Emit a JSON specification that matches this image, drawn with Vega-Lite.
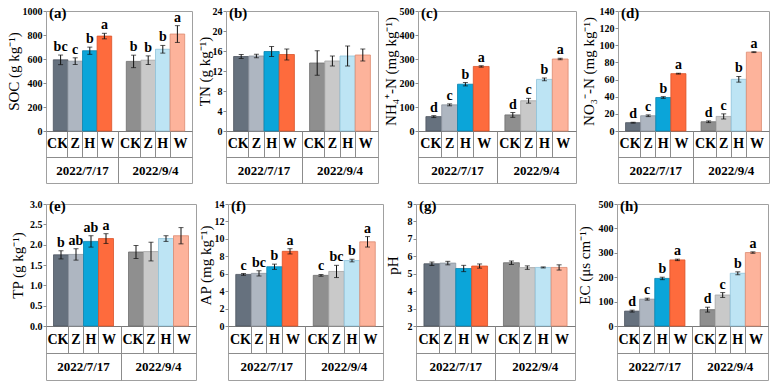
{
  "$schema": "https://vega.github.io/schema/vega-lite/v6.json",
  "background": "white",
  "padding": 5,
  "data": {"values": [
    {"p":"a","d":"2022/7/17","t":"CK","v":593,"e":40,"l":"bc"},
    {"p":"a","d":"2022/7/17","t":"Z","v":582,"e":28,"l":"c"},
    {"p":"a","d":"2022/7/17","t":"H","v":669,"e":30,"l":"b"},
    {"p":"a","d":"2022/7/17","t":"W","v":791,"e":23,"l":"a"},
    {"p":"a","d":"2022/9/4","t":"CK","v":580,"e":52,"l":"b"},
    {"p":"a","d":"2022/9/4","t":"Z","v":590,"e":36,"l":"b"},
    {"p":"a","d":"2022/9/4","t":"H","v":681,"e":32,"l":"b"},
    {"p":"a","d":"2022/9/4","t":"W","v":808,"e":70,"l":"a"},
    {"p":"b","d":"2022/7/17","t":"CK","v":14.9,"e":0.4,"l":""},
    {"p":"b","d":"2022/7/17","t":"Z","v":15.0,"e":0.35,"l":""},
    {"p":"b","d":"2022/7/17","t":"H","v":15.9,"e":1.0,"l":""},
    {"p":"b","d":"2022/7/17","t":"W","v":15.3,"e":1.1,"l":""},
    {"p":"b","d":"2022/9/4","t":"CK","v":13.6,"e":2.45,"l":""},
    {"p":"b","d":"2022/9/4","t":"Z","v":14.0,"e":1.0,"l":""},
    {"p":"b","d":"2022/9/4","t":"H","v":15.0,"e":2.0,"l":""},
    {"p":"b","d":"2022/9/4","t":"W","v":15.2,"e":1.2,"l":""},
    {"p":"c","d":"2022/7/17","t":"CK","v":60,"e":4,"l":"d"},
    {"p":"c","d":"2022/7/17","t":"Z","v":109,"e":4,"l":"c"},
    {"p":"c","d":"2022/7/17","t":"H","v":195,"e":7,"l":"b"},
    {"p":"c","d":"2022/7/17","t":"W","v":269,"e":3,"l":"a"},
    {"p":"c","d":"2022/9/4","t":"CK","v":67,"e":10,"l":"d"},
    {"p":"c","d":"2022/9/4","t":"Z","v":126,"e":10,"l":"c"},
    {"p":"c","d":"2022/9/4","t":"H","v":215,"e":6,"l":"b"},
    {"p":"c","d":"2022/9/4","t":"W","v":300,"e":3,"l":"a"},
    {"p":"d","d":"2022/7/17","t":"CK","v":9.7,"e":0.5,"l":"d"},
    {"p":"d","d":"2022/7/17","t":"Z","v":17.8,"e":1,"l":"c"},
    {"p":"d","d":"2022/7/17","t":"H","v":39.1,"e":1,"l":"b"},
    {"p":"d","d":"2022/7/17","t":"W","v":66.9,"e":0.5,"l":"a"},
    {"p":"d","d":"2022/9/4","t":"CK","v":10.8,"e":1,"l":"d"},
    {"p":"d","d":"2022/9/4","t":"Z","v":17.0,"e":3,"l":"c"},
    {"p":"d","d":"2022/9/4","t":"H","v":60.3,"e":3.3,"l":"b"},
    {"p":"d","d":"2022/9/4","t":"W","v":92,"e":0.5,"l":"a"},
    {"p":"e","d":"2022/7/17","t":"CK","v":1.75,"e":0.1,"l":"b"},
    {"p":"e","d":"2022/7/17","t":"Z","v":1.76,"e":0.14,"l":"ab"},
    {"p":"e","d":"2022/7/17","t":"H","v":2.08,"e":0.14,"l":"ab"},
    {"p":"e","d":"2022/7/17","t":"W","v":2.15,"e":0.12,"l":"a"},
    {"p":"e","d":"2022/9/4","t":"CK","v":1.82,"e":0.16,"l":""},
    {"p":"e","d":"2022/9/4","t":"Z","v":1.83,"e":0.23,"l":""},
    {"p":"e","d":"2022/9/4","t":"H","v":2.15,"e":0.07,"l":""},
    {"p":"e","d":"2022/9/4","t":"W","v":2.22,"e":0.2,"l":""},
    {"p":"f","d":"2022/7/17","t":"CK","v":5.92,"e":0.1,"l":"c"},
    {"p":"f","d":"2022/7/17","t":"Z","v":6.04,"e":0.3,"l":"bc"},
    {"p":"f","d":"2022/7/17","t":"H","v":6.8,"e":0.3,"l":"b"},
    {"p":"f","d":"2022/7/17","t":"W","v":8.57,"e":0.3,"l":"a"},
    {"p":"f","d":"2022/9/4","t":"CK","v":5.81,"e":0.1,"l":"c"},
    {"p":"f","d":"2022/9/4","t":"Z","v":6.26,"e":0.7,"l":"bc"},
    {"p":"f","d":"2022/9/4","t":"H","v":7.51,"e":0.15,"l":"b"},
    {"p":"f","d":"2022/9/4","t":"W","v":9.66,"e":0.6,"l":"a"},
    {"p":"g","d":"2022/7/17","t":"CK","v":5.57,"e":0.1,"l":""},
    {"p":"g","d":"2022/7/17","t":"Z","v":5.61,"e":0.1,"l":""},
    {"p":"g","d":"2022/7/17","t":"H","v":5.3,"e":0.18,"l":""},
    {"p":"g","d":"2022/7/17","t":"W","v":5.44,"e":0.12,"l":""},
    {"p":"g","d":"2022/9/4","t":"CK","v":5.63,"e":0.1,"l":""},
    {"p":"g","d":"2022/9/4","t":"Z","v":5.35,"e":0.1,"l":""},
    {"p":"g","d":"2022/9/4","t":"H","v":5.36,"e":0.03,"l":""},
    {"p":"g","d":"2022/9/4","t":"W","v":5.36,"e":0.15,"l":""},
    {"p":"h","d":"2022/7/17","t":"CK","v":61,"e":4,"l":"d"},
    {"p":"h","d":"2022/7/17","t":"Z","v":110,"e":4,"l":"c"},
    {"p":"h","d":"2022/7/17","t":"H","v":195,"e":5,"l":"b"},
    {"p":"h","d":"2022/7/17","t":"W","v":271,"e":3,"l":"a"},
    {"p":"h","d":"2022/9/4","t":"CK","v":67,"e":10,"l":"d"},
    {"p":"h","d":"2022/9/4","t":"Z","v":127,"e":10,"l":"c"},
    {"p":"h","d":"2022/9/4","t":"H","v":216,"e":6,"l":"b"},
    {"p":"h","d":"2022/9/4","t":"W","v":301,"e":3,"l":"a"}
  ]},
  "vconcat": [
    {"spacing": 3, "hconcat": [
      {
        "width": 146, "height": 172,
        "title": {"text": "(a)"},
        "transform": [
          {"filter": "datum.p == 'a'"},
          {"calculate": "datum.d + ' ' + datum.t", "as": "cat"},
          {"calculate": "datum.v - datum.e", "as": "lo"},
          {"calculate": "datum.v + datum.e", "as": "hi"}
        ],
        "layer": [
          {"mark": {"type": "bar", "strokeWidth": 0.8},
           "encoding": {
             "x": {"field": "cat", "type": "nominal", "title": null,
                   "scale": {"domain": ["2022/7/17 CK","2022/7/17 Z","2022/7/17 H","2022/7/17 W","gap","2022/9/4 CK","2022/9/4 Z","2022/9/4 H","2022/9/4 W"], "paddingInner": 0, "paddingOuter": 0.5},
                   "axis": {"orient": "bottom", "offset": -52, "values": ["2022/7/17 CK","2022/7/17 Z","2022/7/17 H","2022/7/17 W","2022/9/4 CK","2022/9/4 Z","2022/9/4 H","2022/9/4 W"], "labelExpr": "split(datum.value, ' ')[1]", "ticks": false, "domain": true, "domainColor": "#7a7a7a", "labelFontSize": 14, "labelPadding": 5,
                            "labelOffset": {"condition": [{"test": "indexof(datum.value, 'CK') >= 0", "value": -3}, {"test": "indexof(datum.value, 'W') >= 0", "value": 3}], "value": 0}}},
             "y": {"field": "v", "type": "quantitative", "title": "SOC (g kg⁻¹)",
                   "scale": {"domain": [0, 1000], "range": [120, 0]},
                   "axis": {"values": [0, 200, 400, 600, 800, 1000], "tickCount": 20, "format": "d", "labelOverlap": false, "titlePadding": 1}},
             "color": {"field": "cat", "type": "nominal", "legend": null,
                       "scale": {"domain": ["2022/7/17 CK","2022/7/17 Z","2022/7/17 H","2022/7/17 W","2022/9/4 CK","2022/9/4 Z","2022/9/4 H","2022/9/4 W"], "range": ["#66717e","#aeb6c1","#0ba5d9","#fe6b3d","#8f8f8f","#c9c9c9","#bde4f4","#fdb39b"]}},
             "stroke": {"field": "cat", "type": "nominal", "legend": null,
                        "scale": {"domain": ["2022/7/17 CK","2022/7/17 Z","2022/7/17 H","2022/7/17 W","2022/9/4 CK","2022/9/4 Z","2022/9/4 H","2022/9/4 W"], "range": ["#4e5661","#8e96a0","#0b84ae","#d9532a","#6f6f6f","#a5a5a5","#8fc3da","#dc8a70"]}}
           }},
          {"mark": {"type": "rule", "color": "#111", "strokeWidth": 1},
           "encoding": {
             "x": {"field": "cat", "type": "nominal", "title": null,
                   "scale": {"domain": ["2022/7/17 CK","2022/7/17 Z","2022/7/17 H","2022/7/17 W","gap","2022/9/4 CK","2022/9/4 Z","2022/9/4 H","2022/9/4 W"], "paddingInner": 0, "paddingOuter": 0.5},
                   "axis": {"orient": "bottom", "offset": -26, "values": ["2022/7/17 CK","2022/7/17 Z","2022/7/17 H","2022/9/4 CK","2022/9/4 Z","2022/9/4 H"], "bandPosition": 1, "tickExtra": false, "tickSize": -26, "labels": false, "domain": true}},
             "y": {"field": "lo", "type": "quantitative", "title": "SOC (g kg⁻¹)", "scale": {"domain": [0, 1000], "range": [120, 0]}},
             "y2": {"field": "hi"}
           }},
          {"mark": {"type": "tick", "color": "#111", "size": 5, "thickness": 1},
           "encoding": {
             "x": {"field": "cat", "type": "nominal", "title": null,
                   "scale": {"domain": ["2022/7/17 CK","2022/7/17 Z","2022/7/17 H","2022/7/17 W","gap","2022/9/4 CK","2022/9/4 Z","2022/9/4 H","2022/9/4 W"], "paddingInner": 0, "paddingOuter": 0.5},
                   "axis": {"orient": "bottom", "values": ["gap"], "tickSize": -52, "labels": false, "domain": false}},
             "y": {"field": "hi", "type": "quantitative", "title": "SOC (g kg⁻¹)", "scale": {"domain": [0, 1000], "range": [120, 0]}}
           }},
          {"mark": {"type": "tick", "color": "#111", "size": 5, "thickness": 1},
           "encoding": {
             "x": {"field": "cat", "type": "nominal", "title": null, "axis": null,
                   "scale": {"domain": ["2022/7/17 CK","2022/7/17 Z","2022/7/17 H","2022/7/17 W","gap","2022/9/4 CK","2022/9/4 Z","2022/9/4 H","2022/9/4 W"], "paddingInner": 0, "paddingOuter": 0.5}},
             "y": {"field": "lo", "type": "quantitative", "title": "SOC (g kg⁻¹)", "scale": {"domain": [0, 1000], "range": [120, 0]}}
           }},
          {"mark": {"type": "text", "baseline": "bottom", "dy": -1, "fontSize": 14, "fontWeight": "bold", "font": "Liberation Serif"},
           "encoding": {
             "x": {"field": "cat", "type": "nominal", "title": null,
                   "scale": {"domain": ["2022/7/17 CK","2022/7/17 Z","2022/7/17 H","2022/7/17 W","gap","2022/9/4 CK","2022/9/4 Z","2022/9/4 H","2022/9/4 W"], "paddingInner": 0, "paddingOuter": 0.5},
                   "axis": {"orient": "bottom", "values": ["2022/7/17 Z","2022/9/4 Z"], "labelExpr": "split(datum.value, ' ')[0]", "labelOffset": 7.3, "ticks": false, "domain": false, "labelPadding": -13, "labelBaseline": "middle", "labelFontSize": 13}},
             "y": {"field": "hi", "type": "quantitative", "title": "SOC (g kg⁻¹)", "scale": {"domain": [0, 1000], "range": [120, 0]}},
             "text": {"field": "l"}
           }}
        ],
        "resolve": {"axis": {"x": "independent"}}
      },
      {
        "width": 152, "height": 172,
        "title": {"text": "(b)"},
        "transform": [
          {"filter": "datum.p == 'b'"},
          {"calculate": "datum.d + ' ' + datum.t", "as": "cat"},
          {"calculate": "datum.v - datum.e", "as": "lo"},
          {"calculate": "datum.v + datum.e", "as": "hi"}
        ],
        "layer": [
          {"mark": {"type": "bar", "strokeWidth": 0.8},
           "encoding": {
             "x": {"field": "cat", "type": "nominal", "title": null,
                   "scale": {"domain": ["2022/7/17 CK","2022/7/17 Z","2022/7/17 H","2022/7/17 W","gap","2022/9/4 CK","2022/9/4 Z","2022/9/4 H","2022/9/4 W"], "paddingInner": 0, "paddingOuter": 0.5},
                   "axis": {"orient": "bottom", "offset": -52, "values": ["2022/7/17 CK","2022/7/17 Z","2022/7/17 H","2022/7/17 W","2022/9/4 CK","2022/9/4 Z","2022/9/4 H","2022/9/4 W"], "labelExpr": "split(datum.value, ' ')[1]", "ticks": false, "domain": true, "domainColor": "#7a7a7a", "labelFontSize": 14, "labelPadding": 5,
                            "labelOffset": {"condition": [{"test": "indexof(datum.value, 'CK') >= 0", "value": -3}, {"test": "indexof(datum.value, 'W') >= 0", "value": 3}], "value": 0}}},
             "y": {"field": "v", "type": "quantitative", "title": "TN (g kg⁻¹)",
                   "scale": {"domain": [0, 24], "range": [120, 0]},
                   "axis": {"values": [0, 4, 8, 12, 16, 20, 24], "tickCount": 20, "format": "d", "labelOverlap": false, "titlePadding": 0}},
             "color": {"field": "cat", "type": "nominal", "legend": null,
                       "scale": {"domain": ["2022/7/17 CK","2022/7/17 Z","2022/7/17 H","2022/7/17 W","2022/9/4 CK","2022/9/4 Z","2022/9/4 H","2022/9/4 W"], "range": ["#66717e","#aeb6c1","#0ba5d9","#fe6b3d","#8f8f8f","#c9c9c9","#bde4f4","#fdb39b"]}},
             "stroke": {"field": "cat", "type": "nominal", "legend": null,
                        "scale": {"domain": ["2022/7/17 CK","2022/7/17 Z","2022/7/17 H","2022/7/17 W","2022/9/4 CK","2022/9/4 Z","2022/9/4 H","2022/9/4 W"], "range": ["#4e5661","#8e96a0","#0b84ae","#d9532a","#6f6f6f","#a5a5a5","#8fc3da","#dc8a70"]}}
           }},
          {"mark": {"type": "rule", "color": "#111", "strokeWidth": 1},
           "encoding": {
             "x": {"field": "cat", "type": "nominal", "title": null,
                   "scale": {"domain": ["2022/7/17 CK","2022/7/17 Z","2022/7/17 H","2022/7/17 W","gap","2022/9/4 CK","2022/9/4 Z","2022/9/4 H","2022/9/4 W"], "paddingInner": 0, "paddingOuter": 0.5},
                   "axis": {"orient": "bottom", "offset": -26, "values": ["2022/7/17 CK","2022/7/17 Z","2022/7/17 H","2022/9/4 CK","2022/9/4 Z","2022/9/4 H"], "bandPosition": 1, "tickExtra": false, "tickSize": -26, "labels": false, "domain": true}},
             "y": {"field": "lo", "type": "quantitative", "title": "TN (g kg⁻¹)", "scale": {"domain": [0, 24], "range": [120, 0]}},
             "y2": {"field": "hi"}
           }},
          {"mark": {"type": "tick", "color": "#111", "size": 5, "thickness": 1},
           "encoding": {
             "x": {"field": "cat", "type": "nominal", "title": null,
                   "scale": {"domain": ["2022/7/17 CK","2022/7/17 Z","2022/7/17 H","2022/7/17 W","gap","2022/9/4 CK","2022/9/4 Z","2022/9/4 H","2022/9/4 W"], "paddingInner": 0, "paddingOuter": 0.5},
                   "axis": {"orient": "bottom", "values": ["gap"], "tickSize": -52, "labels": false, "domain": false}},
             "y": {"field": "hi", "type": "quantitative", "title": "TN (g kg⁻¹)", "scale": {"domain": [0, 24], "range": [120, 0]}}
           }},
          {"mark": {"type": "tick", "color": "#111", "size": 5, "thickness": 1},
           "encoding": {
             "x": {"field": "cat", "type": "nominal", "title": null, "axis": null,
                   "scale": {"domain": ["2022/7/17 CK","2022/7/17 Z","2022/7/17 H","2022/7/17 W","gap","2022/9/4 CK","2022/9/4 Z","2022/9/4 H","2022/9/4 W"], "paddingInner": 0, "paddingOuter": 0.5}},
             "y": {"field": "lo", "type": "quantitative", "title": "TN (g kg⁻¹)", "scale": {"domain": [0, 24], "range": [120, 0]}}
           }},
          {"mark": {"type": "text", "baseline": "bottom", "dy": -1, "fontSize": 14, "fontWeight": "bold", "font": "Liberation Serif"},
           "encoding": {
             "x": {"field": "cat", "type": "nominal", "title": null,
                   "scale": {"domain": ["2022/7/17 CK","2022/7/17 Z","2022/7/17 H","2022/7/17 W","gap","2022/9/4 CK","2022/9/4 Z","2022/9/4 H","2022/9/4 W"], "paddingInner": 0, "paddingOuter": 0.5},
                   "axis": {"orient": "bottom", "values": ["2022/7/17 Z","2022/9/4 Z"], "labelExpr": "split(datum.value, ' ')[0]", "labelOffset": 7.6, "ticks": false, "domain": false, "labelPadding": -13, "labelBaseline": "middle", "labelFontSize": 13}},
             "y": {"field": "hi", "type": "quantitative", "title": "TN (g kg⁻¹)", "scale": {"domain": [0, 24], "range": [120, 0]}},
             "text": {"field": "l"}
           }}
        ],
        "resolve": {"axis": {"x": "independent"}}
      },
      {
        "width": 158, "height": 172,
        "title": {"text": "(c)"},
        "transform": [
          {"filter": "datum.p == 'c'"},
          {"calculate": "datum.d + ' ' + datum.t", "as": "cat"},
          {"calculate": "datum.v - datum.e", "as": "lo"},
          {"calculate": "datum.v + datum.e", "as": "hi"}
        ],
        "layer": [
          {"mark": {"type": "bar", "strokeWidth": 0.8},
           "encoding": {
             "x": {"field": "cat", "type": "nominal", "title": null,
                   "scale": {"domain": ["2022/7/17 CK","2022/7/17 Z","2022/7/17 H","2022/7/17 W","gap","2022/9/4 CK","2022/9/4 Z","2022/9/4 H","2022/9/4 W"], "paddingInner": 0, "paddingOuter": 0.5},
                   "axis": {"orient": "bottom", "offset": -52, "values": ["2022/7/17 CK","2022/7/17 Z","2022/7/17 H","2022/7/17 W","2022/9/4 CK","2022/9/4 Z","2022/9/4 H","2022/9/4 W"], "labelExpr": "split(datum.value, ' ')[1]", "ticks": false, "domain": true, "domainColor": "#7a7a7a", "labelFontSize": 14, "labelPadding": 5,
                            "labelOffset": {"condition": [{"test": "indexof(datum.value, 'CK') >= 0", "value": -3}, {"test": "indexof(datum.value, 'W') >= 0", "value": 3}], "value": 0}}},
             "y": {"field": "v", "type": "quantitative", "title": "NH₄⁺-N (mg kg⁻¹)",
                   "scale": {"domain": [0, 500], "range": [120, 0]},
                   "axis": {"values": [0, 100, 200, 300, 400, 500], "tickCount": 20, "format": "d", "labelOverlap": false, "titlePadding": 1}},
             "color": {"field": "cat", "type": "nominal", "legend": null,
                       "scale": {"domain": ["2022/7/17 CK","2022/7/17 Z","2022/7/17 H","2022/7/17 W","2022/9/4 CK","2022/9/4 Z","2022/9/4 H","2022/9/4 W"], "range": ["#66717e","#aeb6c1","#0ba5d9","#fe6b3d","#8f8f8f","#c9c9c9","#bde4f4","#fdb39b"]}},
             "stroke": {"field": "cat", "type": "nominal", "legend": null,
                        "scale": {"domain": ["2022/7/17 CK","2022/7/17 Z","2022/7/17 H","2022/7/17 W","2022/9/4 CK","2022/9/4 Z","2022/9/4 H","2022/9/4 W"], "range": ["#4e5661","#8e96a0","#0b84ae","#d9532a","#6f6f6f","#a5a5a5","#8fc3da","#dc8a70"]}}
           }},
          {"mark": {"type": "rule", "color": "#111", "strokeWidth": 1},
           "encoding": {
             "x": {"field": "cat", "type": "nominal", "title": null,
                   "scale": {"domain": ["2022/7/17 CK","2022/7/17 Z","2022/7/17 H","2022/7/17 W","gap","2022/9/4 CK","2022/9/4 Z","2022/9/4 H","2022/9/4 W"], "paddingInner": 0, "paddingOuter": 0.5},
                   "axis": {"orient": "bottom", "offset": -26, "values": ["2022/7/17 CK","2022/7/17 Z","2022/7/17 H","2022/9/4 CK","2022/9/4 Z","2022/9/4 H"], "bandPosition": 1, "tickExtra": false, "tickSize": -26, "labels": false, "domain": true}},
             "y": {"field": "lo", "type": "quantitative", "title": "NH₄⁺-N (mg kg⁻¹)", "scale": {"domain": [0, 500], "range": [120, 0]}},
             "y2": {"field": "hi"}
           }},
          {"mark": {"type": "tick", "color": "#111", "size": 5, "thickness": 1},
           "encoding": {
             "x": {"field": "cat", "type": "nominal", "title": null,
                   "scale": {"domain": ["2022/7/17 CK","2022/7/17 Z","2022/7/17 H","2022/7/17 W","gap","2022/9/4 CK","2022/9/4 Z","2022/9/4 H","2022/9/4 W"], "paddingInner": 0, "paddingOuter": 0.5},
                   "axis": {"orient": "bottom", "values": ["gap"], "tickSize": -52, "labels": false, "domain": false}},
             "y": {"field": "hi", "type": "quantitative", "title": "NH₄⁺-N (mg kg⁻¹)", "scale": {"domain": [0, 500], "range": [120, 0]}}
           }},
          {"mark": {"type": "tick", "color": "#111", "size": 5, "thickness": 1},
           "encoding": {
             "x": {"field": "cat", "type": "nominal", "title": null, "axis": null,
                   "scale": {"domain": ["2022/7/17 CK","2022/7/17 Z","2022/7/17 H","2022/7/17 W","gap","2022/9/4 CK","2022/9/4 Z","2022/9/4 H","2022/9/4 W"], "paddingInner": 0, "paddingOuter": 0.5}},
             "y": {"field": "lo", "type": "quantitative", "title": "NH₄⁺-N (mg kg⁻¹)", "scale": {"domain": [0, 500], "range": [120, 0]}}
           }},
          {"mark": {"type": "text", "baseline": "bottom", "dy": -1, "fontSize": 14, "fontWeight": "bold", "font": "Liberation Serif"},
           "encoding": {
             "x": {"field": "cat", "type": "nominal", "title": null,
                   "scale": {"domain": ["2022/7/17 CK","2022/7/17 Z","2022/7/17 H","2022/7/17 W","gap","2022/9/4 CK","2022/9/4 Z","2022/9/4 H","2022/9/4 W"], "paddingInner": 0, "paddingOuter": 0.5},
                   "axis": {"orient": "bottom", "values": ["2022/7/17 Z","2022/9/4 Z"], "labelExpr": "split(datum.value, ' ')[0]", "labelOffset": 7.9, "ticks": false, "domain": false, "labelPadding": -13, "labelBaseline": "middle", "labelFontSize": 13}},
             "y": {"field": "hi", "type": "quantitative", "title": "NH₄⁺-N (mg kg⁻¹)", "scale": {"domain": [0, 500], "range": [120, 0]}},
             "text": {"field": "l"}
           }}
        ],
        "resolve": {"axis": {"x": "independent"}}
      },
      {
        "width": 151, "height": 172,
        "title": {"text": "(d)"},
        "transform": [
          {"filter": "datum.p == 'd'"},
          {"calculate": "datum.d + ' ' + datum.t", "as": "cat"},
          {"calculate": "datum.v - datum.e", "as": "lo"},
          {"calculate": "datum.v + datum.e", "as": "hi"}
        ],
        "layer": [
          {"mark": {"type": "bar", "strokeWidth": 0.8},
           "encoding": {
             "x": {"field": "cat", "type": "nominal", "title": null,
                   "scale": {"domain": ["2022/7/17 CK","2022/7/17 Z","2022/7/17 H","2022/7/17 W","gap","2022/9/4 CK","2022/9/4 Z","2022/9/4 H","2022/9/4 W"], "paddingInner": 0, "paddingOuter": 0.5},
                   "axis": {"orient": "bottom", "offset": -52, "values": ["2022/7/17 CK","2022/7/17 Z","2022/7/17 H","2022/7/17 W","2022/9/4 CK","2022/9/4 Z","2022/9/4 H","2022/9/4 W"], "labelExpr": "split(datum.value, ' ')[1]", "ticks": false, "domain": true, "domainColor": "#7a7a7a", "labelFontSize": 14, "labelPadding": 5,
                            "labelOffset": {"condition": [{"test": "indexof(datum.value, 'CK') >= 0", "value": -3}, {"test": "indexof(datum.value, 'W') >= 0", "value": 3}], "value": 0}}},
             "y": {"field": "v", "type": "quantitative", "title": "NO₃⁻-N (mg kg⁻¹)",
                   "scale": {"domain": [0, 140], "range": [120, 0]},
                   "axis": {"values": [0, 20, 40, 60, 80, 100, 120, 140], "tickCount": 20, "format": "d", "labelOverlap": false, "titlePadding": 3}},
             "color": {"field": "cat", "type": "nominal", "legend": null,
                       "scale": {"domain": ["2022/7/17 CK","2022/7/17 Z","2022/7/17 H","2022/7/17 W","2022/9/4 CK","2022/9/4 Z","2022/9/4 H","2022/9/4 W"], "range": ["#66717e","#aeb6c1","#0ba5d9","#fe6b3d","#8f8f8f","#c9c9c9","#bde4f4","#fdb39b"]}},
             "stroke": {"field": "cat", "type": "nominal", "legend": null,
                        "scale": {"domain": ["2022/7/17 CK","2022/7/17 Z","2022/7/17 H","2022/7/17 W","2022/9/4 CK","2022/9/4 Z","2022/9/4 H","2022/9/4 W"], "range": ["#4e5661","#8e96a0","#0b84ae","#d9532a","#6f6f6f","#a5a5a5","#8fc3da","#dc8a70"]}}
           }},
          {"mark": {"type": "rule", "color": "#111", "strokeWidth": 1},
           "encoding": {
             "x": {"field": "cat", "type": "nominal", "title": null,
                   "scale": {"domain": ["2022/7/17 CK","2022/7/17 Z","2022/7/17 H","2022/7/17 W","gap","2022/9/4 CK","2022/9/4 Z","2022/9/4 H","2022/9/4 W"], "paddingInner": 0, "paddingOuter": 0.5},
                   "axis": {"orient": "bottom", "offset": -26, "values": ["2022/7/17 CK","2022/7/17 Z","2022/7/17 H","2022/9/4 CK","2022/9/4 Z","2022/9/4 H"], "bandPosition": 1, "tickExtra": false, "tickSize": -26, "labels": false, "domain": true}},
             "y": {"field": "lo", "type": "quantitative", "title": "NO₃⁻-N (mg kg⁻¹)", "scale": {"domain": [0, 140], "range": [120, 0]}},
             "y2": {"field": "hi"}
           }},
          {"mark": {"type": "tick", "color": "#111", "size": 5, "thickness": 1},
           "encoding": {
             "x": {"field": "cat", "type": "nominal", "title": null,
                   "scale": {"domain": ["2022/7/17 CK","2022/7/17 Z","2022/7/17 H","2022/7/17 W","gap","2022/9/4 CK","2022/9/4 Z","2022/9/4 H","2022/9/4 W"], "paddingInner": 0, "paddingOuter": 0.5},
                   "axis": {"orient": "bottom", "values": ["gap"], "tickSize": -52, "labels": false, "domain": false}},
             "y": {"field": "hi", "type": "quantitative", "title": "NO₃⁻-N (mg kg⁻¹)", "scale": {"domain": [0, 140], "range": [120, 0]}}
           }},
          {"mark": {"type": "tick", "color": "#111", "size": 5, "thickness": 1},
           "encoding": {
             "x": {"field": "cat", "type": "nominal", "title": null, "axis": null,
                   "scale": {"domain": ["2022/7/17 CK","2022/7/17 Z","2022/7/17 H","2022/7/17 W","gap","2022/9/4 CK","2022/9/4 Z","2022/9/4 H","2022/9/4 W"], "paddingInner": 0, "paddingOuter": 0.5}},
             "y": {"field": "lo", "type": "quantitative", "title": "NO₃⁻-N (mg kg⁻¹)", "scale": {"domain": [0, 140], "range": [120, 0]}}
           }},
          {"mark": {"type": "text", "baseline": "bottom", "dy": -1, "fontSize": 14, "fontWeight": "bold", "font": "Liberation Serif"},
           "encoding": {
             "x": {"field": "cat", "type": "nominal", "title": null,
                   "scale": {"domain": ["2022/7/17 CK","2022/7/17 Z","2022/7/17 H","2022/7/17 W","gap","2022/9/4 CK","2022/9/4 Z","2022/9/4 H","2022/9/4 W"], "paddingInner": 0, "paddingOuter": 0.5},
                   "axis": {"orient": "bottom", "values": ["2022/7/17 Z","2022/9/4 Z"], "labelExpr": "split(datum.value, ' ')[0]", "labelOffset": 7.55, "ticks": false, "domain": false, "labelPadding": -13, "labelBaseline": "middle", "labelFontSize": 13}},
             "y": {"field": "hi", "type": "quantitative", "title": "NO₃⁻-N (mg kg⁻¹)", "scale": {"domain": [0, 140], "range": [120, 0]}},
             "text": {"field": "l"}
           }}
        ],
        "resolve": {"axis": {"x": "independent"}}
      }
    ]},
    {"spacing": 0, "hconcat": [
      {
        "width": 150, "height": 176,
        "title": {"text": "(e)"},
        "transform": [
          {"filter": "datum.p == 'e'"},
          {"calculate": "datum.d + ' ' + datum.t", "as": "cat"},
          {"calculate": "datum.v - datum.e", "as": "lo"},
          {"calculate": "datum.v + datum.e", "as": "hi"}
        ],
        "layer": [
          {"mark": {"type": "bar", "strokeWidth": 0.8},
           "encoding": {
             "x": {"field": "cat", "type": "nominal", "title": null,
                   "scale": {"domain": ["2022/7/17 CK","2022/7/17 Z","2022/7/17 H","2022/7/17 W","gap","2022/9/4 CK","2022/9/4 Z","2022/9/4 H","2022/9/4 W"], "paddingInner": 0, "paddingOuter": 0.5},
                   "axis": {"orient": "bottom", "offset": -54, "values": ["2022/7/17 CK","2022/7/17 Z","2022/7/17 H","2022/7/17 W","2022/9/4 CK","2022/9/4 Z","2022/9/4 H","2022/9/4 W"], "labelExpr": "split(datum.value, ' ')[1]", "ticks": false, "domain": true, "domainColor": "#7a7a7a", "labelFontSize": 14, "labelPadding": 6,
                            "labelOffset": {"condition": [{"test": "indexof(datum.value, 'CK') >= 0", "value": -3}, {"test": "indexof(datum.value, 'W') >= 0", "value": 3}], "value": 0}}},
             "y": {"field": "v", "type": "quantitative", "title": "TP (g kg⁻¹)",
                   "scale": {"domain": [0, 3], "range": [122, 0]},
                   "axis": {"values": [0, 0.5, 1, 1.5, 2, 2.5, 3], "tickCount": 20, "format": ".1f", "labelOverlap": false, "titlePadding": 4}},
             "color": {"field": "cat", "type": "nominal", "legend": null,
                       "scale": {"domain": ["2022/7/17 CK","2022/7/17 Z","2022/7/17 H","2022/7/17 W","2022/9/4 CK","2022/9/4 Z","2022/9/4 H","2022/9/4 W"], "range": ["#66717e","#aeb6c1","#0ba5d9","#fe6b3d","#8f8f8f","#c9c9c9","#bde4f4","#fdb39b"]}},
             "stroke": {"field": "cat", "type": "nominal", "legend": null,
                        "scale": {"domain": ["2022/7/17 CK","2022/7/17 Z","2022/7/17 H","2022/7/17 W","2022/9/4 CK","2022/9/4 Z","2022/9/4 H","2022/9/4 W"], "range": ["#4e5661","#8e96a0","#0b84ae","#d9532a","#6f6f6f","#a5a5a5","#8fc3da","#dc8a70"]}}
           }},
          {"mark": {"type": "rule", "color": "#111", "strokeWidth": 1},
           "encoding": {
             "x": {"field": "cat", "type": "nominal", "title": null,
                   "scale": {"domain": ["2022/7/17 CK","2022/7/17 Z","2022/7/17 H","2022/7/17 W","gap","2022/9/4 CK","2022/9/4 Z","2022/9/4 H","2022/9/4 W"], "paddingInner": 0, "paddingOuter": 0.5},
                   "axis": {"orient": "bottom", "offset": -27, "values": ["2022/7/17 CK","2022/7/17 Z","2022/7/17 H","2022/9/4 CK","2022/9/4 Z","2022/9/4 H"], "bandPosition": 1, "tickExtra": false, "tickSize": -27, "labels": false, "domain": true}},
             "y": {"field": "lo", "type": "quantitative", "title": "TP (g kg⁻¹)", "scale": {"domain": [0, 3], "range": [122, 0]}},
             "y2": {"field": "hi"}
           }},
          {"mark": {"type": "tick", "color": "#111", "size": 5, "thickness": 1},
           "encoding": {
             "x": {"field": "cat", "type": "nominal", "title": null,
                   "scale": {"domain": ["2022/7/17 CK","2022/7/17 Z","2022/7/17 H","2022/7/17 W","gap","2022/9/4 CK","2022/9/4 Z","2022/9/4 H","2022/9/4 W"], "paddingInner": 0, "paddingOuter": 0.5},
                   "axis": {"orient": "bottom", "values": ["gap"], "tickSize": -54, "labels": false, "domain": false}},
             "y": {"field": "hi", "type": "quantitative", "title": "TP (g kg⁻¹)", "scale": {"domain": [0, 3], "range": [122, 0]}}
           }},
          {"mark": {"type": "tick", "color": "#111", "size": 5, "thickness": 1},
           "encoding": {
             "x": {"field": "cat", "type": "nominal", "title": null, "axis": null,
                   "scale": {"domain": ["2022/7/17 CK","2022/7/17 Z","2022/7/17 H","2022/7/17 W","gap","2022/9/4 CK","2022/9/4 Z","2022/9/4 H","2022/9/4 W"], "paddingInner": 0, "paddingOuter": 0.5}},
             "y": {"field": "lo", "type": "quantitative", "title": "TP (g kg⁻¹)", "scale": {"domain": [0, 3], "range": [122, 0]}}
           }},
          {"mark": {"type": "text", "baseline": "bottom", "dy": -1, "fontSize": 14, "fontWeight": "bold", "font": "Liberation Serif"},
           "encoding": {
             "x": {"field": "cat", "type": "nominal", "title": null,
                   "scale": {"domain": ["2022/7/17 CK","2022/7/17 Z","2022/7/17 H","2022/7/17 W","gap","2022/9/4 CK","2022/9/4 Z","2022/9/4 H","2022/9/4 W"], "paddingInner": 0, "paddingOuter": 0.5},
                   "axis": {"orient": "bottom", "values": ["2022/7/17 Z","2022/9/4 Z"], "labelExpr": "split(datum.value, ' ')[0]", "labelOffset": 7.5, "ticks": false, "domain": false, "labelPadding": -14, "labelBaseline": "middle", "labelFontSize": 13}},
             "y": {"field": "hi", "type": "quantitative", "title": "TP (g kg⁻¹)", "scale": {"domain": [0, 3], "range": [122, 0]}},
             "text": {"field": "l"}
           }}
        ],
        "resolve": {"axis": {"x": "independent"}}
      },
      {
        "width": 155, "height": 176,
        "title": {"text": "(f)"},
        "transform": [
          {"filter": "datum.p == 'f'"},
          {"calculate": "datum.d + ' ' + datum.t", "as": "cat"},
          {"calculate": "datum.v - datum.e", "as": "lo"},
          {"calculate": "datum.v + datum.e", "as": "hi"}
        ],
        "layer": [
          {"mark": {"type": "bar", "strokeWidth": 0.8},
           "encoding": {
             "x": {"field": "cat", "type": "nominal", "title": null,
                   "scale": {"domain": ["2022/7/17 CK","2022/7/17 Z","2022/7/17 H","2022/7/17 W","gap","2022/9/4 CK","2022/9/4 Z","2022/9/4 H","2022/9/4 W"], "paddingInner": 0, "paddingOuter": 0.5},
                   "axis": {"orient": "bottom", "offset": -54, "values": ["2022/7/17 CK","2022/7/17 Z","2022/7/17 H","2022/7/17 W","2022/9/4 CK","2022/9/4 Z","2022/9/4 H","2022/9/4 W"], "labelExpr": "split(datum.value, ' ')[1]", "ticks": false, "domain": true, "domainColor": "#7a7a7a", "labelFontSize": 14, "labelPadding": 6,
                            "labelOffset": {"condition": [{"test": "indexof(datum.value, 'CK') >= 0", "value": -3}, {"test": "indexof(datum.value, 'W') >= 0", "value": 3}], "value": 0}}},
             "y": {"field": "v", "type": "quantitative", "title": "AP (mg kg⁻¹)",
                   "scale": {"domain": [0, 14], "range": [122, 0]},
                   "axis": {"values": [0, 2, 4, 6, 8, 10, 12, 14], "tickCount": 20, "format": "d", "labelOverlap": false, "titlePadding": 1}},
             "color": {"field": "cat", "type": "nominal", "legend": null,
                       "scale": {"domain": ["2022/7/17 CK","2022/7/17 Z","2022/7/17 H","2022/7/17 W","2022/9/4 CK","2022/9/4 Z","2022/9/4 H","2022/9/4 W"], "range": ["#66717e","#aeb6c1","#0ba5d9","#fe6b3d","#8f8f8f","#c9c9c9","#bde4f4","#fdb39b"]}},
             "stroke": {"field": "cat", "type": "nominal", "legend": null,
                        "scale": {"domain": ["2022/7/17 CK","2022/7/17 Z","2022/7/17 H","2022/7/17 W","2022/9/4 CK","2022/9/4 Z","2022/9/4 H","2022/9/4 W"], "range": ["#4e5661","#8e96a0","#0b84ae","#d9532a","#6f6f6f","#a5a5a5","#8fc3da","#dc8a70"]}}
           }},
          {"mark": {"type": "rule", "color": "#111", "strokeWidth": 1},
           "encoding": {
             "x": {"field": "cat", "type": "nominal", "title": null,
                   "scale": {"domain": ["2022/7/17 CK","2022/7/17 Z","2022/7/17 H","2022/7/17 W","gap","2022/9/4 CK","2022/9/4 Z","2022/9/4 H","2022/9/4 W"], "paddingInner": 0, "paddingOuter": 0.5},
                   "axis": {"orient": "bottom", "offset": -27, "values": ["2022/7/17 CK","2022/7/17 Z","2022/7/17 H","2022/9/4 CK","2022/9/4 Z","2022/9/4 H"], "bandPosition": 1, "tickExtra": false, "tickSize": -27, "labels": false, "domain": true}},
             "y": {"field": "lo", "type": "quantitative", "title": "AP (mg kg⁻¹)", "scale": {"domain": [0, 14], "range": [122, 0]}},
             "y2": {"field": "hi"}
           }},
          {"mark": {"type": "tick", "color": "#111", "size": 5, "thickness": 1},
           "encoding": {
             "x": {"field": "cat", "type": "nominal", "title": null,
                   "scale": {"domain": ["2022/7/17 CK","2022/7/17 Z","2022/7/17 H","2022/7/17 W","gap","2022/9/4 CK","2022/9/4 Z","2022/9/4 H","2022/9/4 W"], "paddingInner": 0, "paddingOuter": 0.5},
                   "axis": {"orient": "bottom", "values": ["gap"], "tickSize": -54, "labels": false, "domain": false}},
             "y": {"field": "hi", "type": "quantitative", "title": "AP (mg kg⁻¹)", "scale": {"domain": [0, 14], "range": [122, 0]}}
           }},
          {"mark": {"type": "tick", "color": "#111", "size": 5, "thickness": 1},
           "encoding": {
             "x": {"field": "cat", "type": "nominal", "title": null, "axis": null,
                   "scale": {"domain": ["2022/7/17 CK","2022/7/17 Z","2022/7/17 H","2022/7/17 W","gap","2022/9/4 CK","2022/9/4 Z","2022/9/4 H","2022/9/4 W"], "paddingInner": 0, "paddingOuter": 0.5}},
             "y": {"field": "lo", "type": "quantitative", "title": "AP (mg kg⁻¹)", "scale": {"domain": [0, 14], "range": [122, 0]}}
           }},
          {"mark": {"type": "text", "baseline": "bottom", "dy": -1, "fontSize": 14, "fontWeight": "bold", "font": "Liberation Serif"},
           "encoding": {
             "x": {"field": "cat", "type": "nominal", "title": null,
                   "scale": {"domain": ["2022/7/17 CK","2022/7/17 Z","2022/7/17 H","2022/7/17 W","gap","2022/9/4 CK","2022/9/4 Z","2022/9/4 H","2022/9/4 W"], "paddingInner": 0, "paddingOuter": 0.5},
                   "axis": {"orient": "bottom", "values": ["2022/7/17 Z","2022/9/4 Z"], "labelExpr": "split(datum.value, ' ')[0]", "labelOffset": 7.75, "ticks": false, "domain": false, "labelPadding": -14, "labelBaseline": "middle", "labelFontSize": 13}},
             "y": {"field": "hi", "type": "quantitative", "title": "AP (mg kg⁻¹)", "scale": {"domain": [0, 14], "range": [122, 0]}},
             "text": {"field": "l"}
           }}
        ],
        "resolve": {"axis": {"x": "independent"}}
      },
      {
        "width": 159, "height": 176,
        "title": {"text": "(g)"},
        "transform": [
          {"filter": "datum.p == 'g'"},
          {"calculate": "datum.d + ' ' + datum.t", "as": "cat"},
          {"calculate": "datum.v - datum.e", "as": "lo"},
          {"calculate": "datum.v + datum.e", "as": "hi"}
        ],
        "layer": [
          {"mark": {"type": "bar", "strokeWidth": 0.8},
           "encoding": {
             "x": {"field": "cat", "type": "nominal", "title": null,
                   "scale": {"domain": ["2022/7/17 CK","2022/7/17 Z","2022/7/17 H","2022/7/17 W","gap","2022/9/4 CK","2022/9/4 Z","2022/9/4 H","2022/9/4 W"], "paddingInner": 0, "paddingOuter": 0.5},
                   "axis": {"orient": "bottom", "offset": -54, "values": ["2022/7/17 CK","2022/7/17 Z","2022/7/17 H","2022/7/17 W","2022/9/4 CK","2022/9/4 Z","2022/9/4 H","2022/9/4 W"], "labelExpr": "split(datum.value, ' ')[1]", "ticks": false, "domain": true, "domainColor": "#7a7a7a", "labelFontSize": 14, "labelPadding": 6,
                            "labelOffset": {"condition": [{"test": "indexof(datum.value, 'CK') >= 0", "value": -3}, {"test": "indexof(datum.value, 'W') >= 0", "value": 3}], "value": 0}}},
             "y": {"field": "v", "type": "quantitative", "title": "pH",
                   "scale": {"domain": [2, 9], "range": [122, 0], "clamp": true},
                   "axis": {"values": [2, 3, 4, 5, 6, 7, 8, 9], "tickCount": 20, "format": "d", "labelOverlap": false, "titlePadding": 7}},
             "color": {"field": "cat", "type": "nominal", "legend": null,
                       "scale": {"domain": ["2022/7/17 CK","2022/7/17 Z","2022/7/17 H","2022/7/17 W","2022/9/4 CK","2022/9/4 Z","2022/9/4 H","2022/9/4 W"], "range": ["#66717e","#aeb6c1","#0ba5d9","#fe6b3d","#8f8f8f","#c9c9c9","#bde4f4","#fdb39b"]}},
             "stroke": {"field": "cat", "type": "nominal", "legend": null,
                        "scale": {"domain": ["2022/7/17 CK","2022/7/17 Z","2022/7/17 H","2022/7/17 W","2022/9/4 CK","2022/9/4 Z","2022/9/4 H","2022/9/4 W"], "range": ["#4e5661","#8e96a0","#0b84ae","#d9532a","#6f6f6f","#a5a5a5","#8fc3da","#dc8a70"]}}
           }},
          {"mark": {"type": "rule", "color": "#111", "strokeWidth": 1},
           "encoding": {
             "x": {"field": "cat", "type": "nominal", "title": null,
                   "scale": {"domain": ["2022/7/17 CK","2022/7/17 Z","2022/7/17 H","2022/7/17 W","gap","2022/9/4 CK","2022/9/4 Z","2022/9/4 H","2022/9/4 W"], "paddingInner": 0, "paddingOuter": 0.5},
                   "axis": {"orient": "bottom", "offset": -27, "values": ["2022/7/17 CK","2022/7/17 Z","2022/7/17 H","2022/9/4 CK","2022/9/4 Z","2022/9/4 H"], "bandPosition": 1, "tickExtra": false, "tickSize": -27, "labels": false, "domain": true}},
             "y": {"field": "lo", "type": "quantitative", "title": "pH", "scale": {"domain": [2, 9], "range": [122, 0], "clamp": true}},
             "y2": {"field": "hi"}
           }},
          {"mark": {"type": "tick", "color": "#111", "size": 5, "thickness": 1},
           "encoding": {
             "x": {"field": "cat", "type": "nominal", "title": null,
                   "scale": {"domain": ["2022/7/17 CK","2022/7/17 Z","2022/7/17 H","2022/7/17 W","gap","2022/9/4 CK","2022/9/4 Z","2022/9/4 H","2022/9/4 W"], "paddingInner": 0, "paddingOuter": 0.5},
                   "axis": {"orient": "bottom", "values": ["gap"], "tickSize": -54, "labels": false, "domain": false}},
             "y": {"field": "hi", "type": "quantitative", "title": "pH", "scale": {"domain": [2, 9], "range": [122, 0], "clamp": true}}
           }},
          {"mark": {"type": "tick", "color": "#111", "size": 5, "thickness": 1},
           "encoding": {
             "x": {"field": "cat", "type": "nominal", "title": null, "axis": null,
                   "scale": {"domain": ["2022/7/17 CK","2022/7/17 Z","2022/7/17 H","2022/7/17 W","gap","2022/9/4 CK","2022/9/4 Z","2022/9/4 H","2022/9/4 W"], "paddingInner": 0, "paddingOuter": 0.5}},
             "y": {"field": "lo", "type": "quantitative", "title": "pH", "scale": {"domain": [2, 9], "range": [122, 0], "clamp": true}}
           }},
          {"mark": {"type": "text", "baseline": "bottom", "dy": -1, "fontSize": 14, "fontWeight": "bold", "font": "Liberation Serif"},
           "encoding": {
             "x": {"field": "cat", "type": "nominal", "title": null,
                   "scale": {"domain": ["2022/7/17 CK","2022/7/17 Z","2022/7/17 H","2022/7/17 W","gap","2022/9/4 CK","2022/9/4 Z","2022/9/4 H","2022/9/4 W"], "paddingInner": 0, "paddingOuter": 0.5},
                   "axis": {"orient": "bottom", "values": ["2022/7/17 Z","2022/9/4 Z"], "labelExpr": "split(datum.value, ' ')[0]", "labelOffset": 7.95, "ticks": false, "domain": false, "labelPadding": -14, "labelBaseline": "middle", "labelFontSize": 13}},
             "y": {"field": "hi", "type": "quantitative", "title": "pH", "scale": {"domain": [2, 9], "range": [122, 0], "clamp": true}},
             "text": {"field": "l"}
           }}
        ],
        "resolve": {"axis": {"x": "independent"}}
      },
      {
        "width": 151, "height": 176,
        "title": {"text": "(h)"},
        "transform": [
          {"filter": "datum.p == 'h'"},
          {"calculate": "datum.d + ' ' + datum.t", "as": "cat"},
          {"calculate": "datum.v - datum.e", "as": "lo"},
          {"calculate": "datum.v + datum.e", "as": "hi"}
        ],
        "layer": [
          {"mark": {"type": "bar", "strokeWidth": 0.8},
           "encoding": {
             "x": {"field": "cat", "type": "nominal", "title": null,
                   "scale": {"domain": ["2022/7/17 CK","2022/7/17 Z","2022/7/17 H","2022/7/17 W","gap","2022/9/4 CK","2022/9/4 Z","2022/9/4 H","2022/9/4 W"], "paddingInner": 0, "paddingOuter": 0.5},
                   "axis": {"orient": "bottom", "offset": -54, "values": ["2022/7/17 CK","2022/7/17 Z","2022/7/17 H","2022/7/17 W","2022/9/4 CK","2022/9/4 Z","2022/9/4 H","2022/9/4 W"], "labelExpr": "split(datum.value, ' ')[1]", "ticks": false, "domain": true, "domainColor": "#7a7a7a", "labelFontSize": 14, "labelPadding": 6,
                            "labelOffset": {"condition": [{"test": "indexof(datum.value, 'CK') >= 0", "value": -3}, {"test": "indexof(datum.value, 'W') >= 0", "value": 3}], "value": 0}}},
             "y": {"field": "v", "type": "quantitative", "title": "EC (μs cm⁻¹)",
                   "scale": {"domain": [0, 500], "range": [122, 0]},
                   "axis": {"values": [0, 100, 200, 300, 400, 500], "tickCount": 20, "format": "d", "labelOverlap": false, "titlePadding": 6}},
             "color": {"field": "cat", "type": "nominal", "legend": null,
                       "scale": {"domain": ["2022/7/17 CK","2022/7/17 Z","2022/7/17 H","2022/7/17 W","2022/9/4 CK","2022/9/4 Z","2022/9/4 H","2022/9/4 W"], "range": ["#66717e","#aeb6c1","#0ba5d9","#fe6b3d","#8f8f8f","#c9c9c9","#bde4f4","#fdb39b"]}},
             "stroke": {"field": "cat", "type": "nominal", "legend": null,
                        "scale": {"domain": ["2022/7/17 CK","2022/7/17 Z","2022/7/17 H","2022/7/17 W","2022/9/4 CK","2022/9/4 Z","2022/9/4 H","2022/9/4 W"], "range": ["#4e5661","#8e96a0","#0b84ae","#d9532a","#6f6f6f","#a5a5a5","#8fc3da","#dc8a70"]}}
           }},
          {"mark": {"type": "rule", "color": "#111", "strokeWidth": 1},
           "encoding": {
             "x": {"field": "cat", "type": "nominal", "title": null,
                   "scale": {"domain": ["2022/7/17 CK","2022/7/17 Z","2022/7/17 H","2022/7/17 W","gap","2022/9/4 CK","2022/9/4 Z","2022/9/4 H","2022/9/4 W"], "paddingInner": 0, "paddingOuter": 0.5},
                   "axis": {"orient": "bottom", "offset": -27, "values": ["2022/7/17 CK","2022/7/17 Z","2022/7/17 H","2022/9/4 CK","2022/9/4 Z","2022/9/4 H"], "bandPosition": 1, "tickExtra": false, "tickSize": -27, "labels": false, "domain": true}},
             "y": {"field": "lo", "type": "quantitative", "title": "EC (μs cm⁻¹)", "scale": {"domain": [0, 500], "range": [122, 0]}},
             "y2": {"field": "hi"}
           }},
          {"mark": {"type": "tick", "color": "#111", "size": 5, "thickness": 1},
           "encoding": {
             "x": {"field": "cat", "type": "nominal", "title": null,
                   "scale": {"domain": ["2022/7/17 CK","2022/7/17 Z","2022/7/17 H","2022/7/17 W","gap","2022/9/4 CK","2022/9/4 Z","2022/9/4 H","2022/9/4 W"], "paddingInner": 0, "paddingOuter": 0.5},
                   "axis": {"orient": "bottom", "values": ["gap"], "tickSize": -54, "labels": false, "domain": false}},
             "y": {"field": "hi", "type": "quantitative", "title": "EC (μs cm⁻¹)", "scale": {"domain": [0, 500], "range": [122, 0]}}
           }},
          {"mark": {"type": "tick", "color": "#111", "size": 5, "thickness": 1},
           "encoding": {
             "x": {"field": "cat", "type": "nominal", "title": null, "axis": null,
                   "scale": {"domain": ["2022/7/17 CK","2022/7/17 Z","2022/7/17 H","2022/7/17 W","gap","2022/9/4 CK","2022/9/4 Z","2022/9/4 H","2022/9/4 W"], "paddingInner": 0, "paddingOuter": 0.5}},
             "y": {"field": "lo", "type": "quantitative", "title": "EC (μs cm⁻¹)", "scale": {"domain": [0, 500], "range": [122, 0]}}
           }},
          {"mark": {"type": "text", "baseline": "bottom", "dy": -1, "fontSize": 14, "fontWeight": "bold", "font": "Liberation Serif"},
           "encoding": {
             "x": {"field": "cat", "type": "nominal", "title": null,
                   "scale": {"domain": ["2022/7/17 CK","2022/7/17 Z","2022/7/17 H","2022/7/17 W","gap","2022/9/4 CK","2022/9/4 Z","2022/9/4 H","2022/9/4 W"], "paddingInner": 0, "paddingOuter": 0.5},
                   "axis": {"orient": "bottom", "values": ["2022/7/17 Z","2022/9/4 Z"], "labelExpr": "split(datum.value, ' ')[0]", "labelOffset": 7.55, "ticks": false, "domain": false, "labelPadding": -14, "labelBaseline": "middle", "labelFontSize": 13}},
             "y": {"field": "hi", "type": "quantitative", "title": "EC (μs cm⁻¹)", "scale": {"domain": [0, 500], "range": [122, 0]}},
             "text": {"field": "l"}
           }}
        ],
        "resolve": {"axis": {"x": "independent"}}
      }
    ]}
  ],
  "spacing": 14,
  "config": {
    "font": "Liberation Serif",
    "view": {"stroke": "#a0a0a0"},
    "axis": {"labelFont": "Liberation Serif", "titleFont": "Liberation Serif", "labelColor": "#000", "titleColor": "#000", "grid": false, "tickColor": "#8c8c8c", "domainColor": "#8c8c8c"},
    "axisX": {"labelAngle": 0, "labelFontWeight": "bold"},
    "axisY": {"labelFontSize": 10, "labelFontWeight": "bold", "tickSize": 3, "labelPadding": 1, "labelOverlap": false, "titleFontSize": 15, "titleFontWeight": "normal", "titlePadding": 4, "domain": false},
    "title": {"anchor": "start", "frame": "group", "font": "Liberation Serif", "fontSize": 15, "fontWeight": "bold", "dx": 3, "dy": 19, "offset": 0}
  }
}
